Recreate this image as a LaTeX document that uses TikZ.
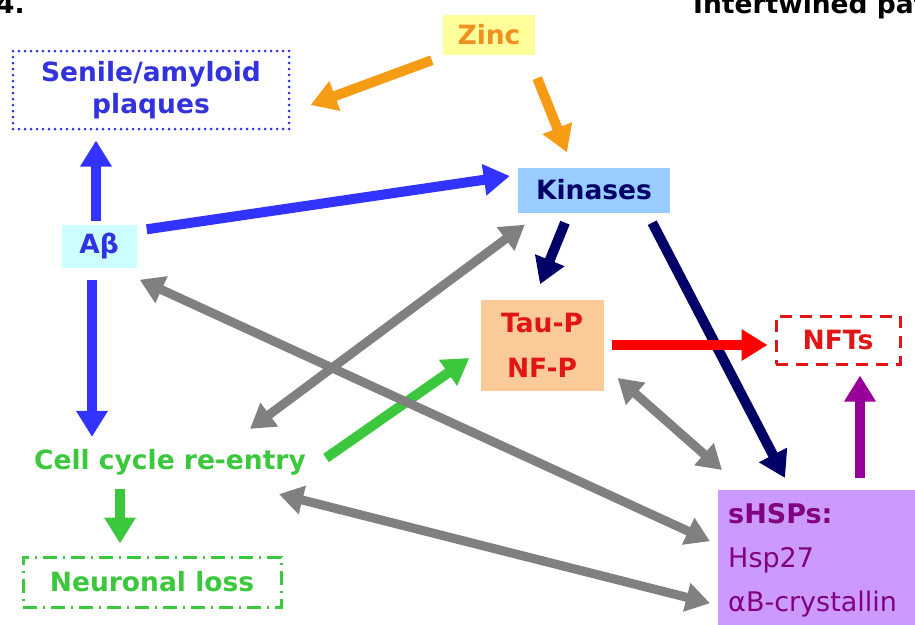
\documentclass[tikz,border=0pt]{standalone}
\usepackage{fontspec}
\setmainfont{DejaVu Sans}
\usetikzlibrary{arrows.meta,calc}

\definecolor{zincfill}{HTML}{FFFF99}
\definecolor{zinctext}{HTML}{F09020}
\definecolor{orangearr}{HTML}{F59B14}
\definecolor{abblue}{HTML}{3333DD}
\definecolor{bluearr}{HTML}{3333FF}
\definecolor{kinfill}{HTML}{99CCFF}
\definecolor{navy}{HTML}{000066}
\definecolor{abfill}{HTML}{CCFFFF}
\definecolor{taufill}{HTML}{FACA98}
\definecolor{taured}{HTML}{E01515}
\definecolor{cellgreen}{HTML}{3CC83C}
\definecolor{hspfill}{HTML}{CC99FF}
\definecolor{hsptext}{HTML}{800080}
\definecolor{hsparr}{HTML}{990099}
\definecolor{grayarr}{HTML}{808080}

\tikzset{
  lbl/.style={font=\bfseries\fontsize{26.5}{32}\selectfont, inner sep=0pt, align=center},
  fat/.style={line width=10pt, -{Triangle[length=26pt,width=30pt]}},
  twoway/.style={line width=9pt, {Triangle[length=24pt,width=28pt]}-{Triangle[length=24pt,width=28pt]}, grayarr}
}

\begin{document}
\begin{tikzpicture}[x=1pt,y=-1pt]
  \clip (0,0) rectangle (915,624);
  \fill[white] (0,0) rectangle (915,624);
  % cut-off heading
  \node[lbl, anchor=base west, text=black] (num) at (-4,13) {4.};
  \node[lbl, anchor=base west, text=black] (title) at (693,13) {Intertwined pathways};
  % nodes
  \node[lbl, fill=zincfill, text=zinctext, minimum width=92, minimum height=40] (zinc) at (489,35) {Zinc};
  \node[lbl, draw=abblue, line width=3pt, dash pattern=on 0pt off 6pt, line cap=round,
        text=abblue, minimum width=276, minimum height=78] (plaq) at (151,90) {Senile/amyloid\\plaques};
  \node[lbl, fill=kinfill, text=navy, minimum width=152, minimum height=45] (kin) at (594,190) {Kinases};
  \node[lbl, fill=abfill, text=abblue, minimum width=75, minimum height=43] (ab) at (99,246) {Aβ};
  \node[lbl, fill=taufill, text=taured, minimum width=123, minimum height=91,
        font=\bfseries\fontsize{26.5}{45}\selectfont] (tau) at (542,345) {Tau-P\\NF-P};
  \node[lbl, draw=taured, line width=3pt, dash pattern=on 12pt off 8pt,
        text=taured, minimum width=124, minimum height=48] (nft) at (838,340) {NFTs};
  \node[lbl, text=cellgreen, inner sep=4pt] (cell) at (170,462) {Cell cycle re-entry};
  \node[lbl, draw=cellgreen, line width=3pt, dash pattern=on 14pt off 6pt on 2pt off 6pt,
        text=cellgreen, minimum width=258, minimum height=50] (loss) at (152,582) {Neuronal loss};
  \node[fill=hspfill, text=hsptext, anchor=north west, inner xsep=10pt, inner ysep=6pt,
        minimum width=210, minimum height=140, align=left, text width=200pt,
        font=\fontsize{27}{44}\selectfont] (hsp) at (718,490) {\textbf{sHSPs:}\\Hsp27\\αB-crystallin};
  % arrows
  \begin{scope}[fat]
    \draw[orangearr] ($(zinc.south west)+(-11,5)$) -- ($(plaq.east)+(20,15)$);
    \draw[orangearr] ($(zinc.south east)+(2,23)$) -- ($(kin.north)+(-27,-15)$);
    \draw[bluearr] ($(ab.north)+(-3,-3)$) -- ($(plaq.south)+(-55,10)$);
    \draw[bluearr] ($(ab.north east)+(10,5)$) -- ($(kin.west)+(-8,-14)$);
    \draw[bluearr] ($(ab.south)+(-7,12)$) -- ($(ab.south |- cell.north)+(-7,-8)$);
    \draw[navy] ($(kin.south)+(-29,10)$) -- ($(tau.north)+(-2,-15)$);
    \draw[navy] ($(kin.south east)+(-18,10)$) -- ($(hsp.north west)+(67,-12)$);
    \draw[red] ($(tau.east)+(8,0)$) -- ($(nft.west)+(-7,5)$);
    \draw[hsparr] ($(nft.south |- hsp.north)+(22,-12)$) -- ($(nft.south)+(22,10)$);
    \draw[cellgreen] ($(cell.east)+(16,-4)$) -- ($(tau.west)+(-11,13)$);
    \draw[cellgreen] ($(cell.south)+(-50,10)$) -- ($(loss.north)+(-32,-12)$);
  \end{scope}
  \begin{scope}[twoway]
    \draw ($(cell.north)+(80,-16)$) -- ($(kin.south west)+(7,12)$);
    \draw ($(ab.south east)+(3,12)$) -- ($(hsp.west)+(-8,-19)$);
    \draw ($(tau.east)+(14,33)$) -- ($(hsp.north west)+(4,-20)$);
    \draw ($(cell.south east)+(-31,15)$) -- ($(hsp.west)+(-8,43)$);
  \end{scope}
\end{tikzpicture}
\end{document}
